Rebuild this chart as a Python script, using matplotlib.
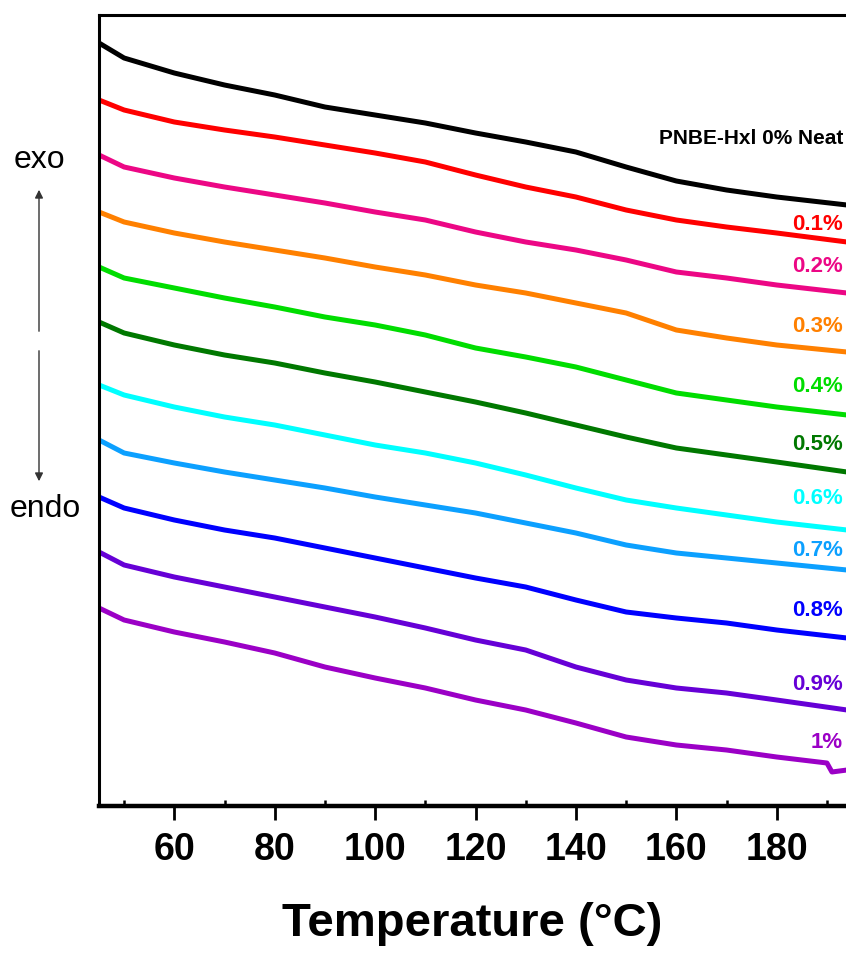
# DSC thermograms, PNBE-HxI loadings
import matplotlib.pyplot as plt
import numpy as np

# dados (fluxo de calor em u.a., curvas deslocadas)
temp = [45, 50, 60, 70, 80, 90, 100, 110, 120, 130, 140, 150, 160, 170, 180, 194]

neat = [763, 748, 733, 721, 711, 699, 691, 683, 673, 664, 654, 639, 625, 616, 609, 601]
p01 = [706, 696, 684, 676, 669, 661, 653, 644, 631, 619, 609, 596, 586, 579, 573, 564]
p02 = [651, 639, 628, 619, 611, 603, 594, 586, 574, 564, 556, 546, 534, 528, 521, 513]
p03 = [594, 584, 573, 564, 556, 548, 539, 531, 521, 513, 503, 493, 476, 468, 461, 454]
p04 = [539, 528, 518, 508, 499, 489, 481, 471, 458, 449, 439, 426, 413, 406, 399, 391]
p05 = [484, 473, 461, 451, 443, 433, 424, 414, 404, 393, 381, 369, 358, 351, 344, 334]
p06 = [421, 411, 399, 389, 381, 371, 361, 353, 343, 331, 318, 306, 298, 291, 284, 276]
p07 = [366, 353, 343, 334, 326, 318, 309, 301, 293, 283, 273, 261, 253, 248, 243, 236]
p08 = [309, 298, 286, 276, 268, 258, 248, 238, 228, 219, 206, 194, 188, 183, 176, 168]
p09 = [254, 241, 229, 219, 209, 199, 189, 178, 166, 156, 139, 126, 118, 113, 106, 96]

# 1% tem um pequeno degrau perto de 191 °C
temp_1 = [45, 50, 60, 70, 80, 90, 100, 110, 120, 130, 140, 150, 160, 170, 180, 190, 191, 194]
p10 = [198, 186, 174, 164, 153, 139, 128, 118, 106, 96, 83, 69, 61, 56, 49, 43, 34, 36]

series = [neat, p01, p02, p03, p04, p05, p06, p07, p08, p09]
labels = ['PNBE-Hxl 0% Neat', '0.1%', '0.2%', '0.3%', '0.4%', '0.5%',
          '0.6%', '0.7%', '0.8%', '0.9%', '1%']
label_y = [668, 582, 539, 480, 420, 362, 307, 255, 195, 122, 64]
cores = ['black', '#ff0000', '#ec0785', '#ff8000', '#00dd00', '#007800',
         '#00ffff', '#0ca0ff', '#0000ff', '#6600d6', '#9b00c6']

fonte = ['Liberation Sans', 'DejaVu Sans']
plt.rcParams['font.family'] = fonte

fig = plt.figure(figsize=(8.46, 9.56), dpi=100)
ax = fig.add_axes([99/846, 150/956, 1 - 99/846, 791/956])

for y, c in zip(series, cores):
    ax.plot(temp, y, color=c, lw=3.6, solid_joinstyle='round')
ax.plot(temp_1, p10, color=cores[-1], lw=3.6, solid_joinstyle='round')

ax.set_xlim(45, 193.8)
ax.set_ylim(0, 791)

# textos das curvas, alinhados à direita
for txt, yy, c in zip(labels, label_y, cores):
    fs = 15 if txt.startswith('PNBE') else 16
    ax.text(0.996, yy, txt, color=c, fontsize=fs, fontweight='bold',
            ha='right', va='center', transform=ax.get_yaxis_transform(),
            clip_on=False)

# eixos
ax.spines['right'].set_visible(False)
ax.spines['top'].set_linewidth(2.2)
ax.spines['left'].set_linewidth(2.2)
ax.spines['bottom'].set_linewidth(3.2)
ax.set_yticks([])
ax.set_xticks(np.arange(60, 181, 20))
ax.set_xticks(np.arange(50, 191, 20), minor=True)
ax.tick_params(axis='x', which='major', direction='out', length=10, width=2,
               pad=9, labelsize=27)
ax.tick_params(axis='x', which='minor', direction='in', length=4.5, width=1.8)
for t in ax.get_xticklabels():
    t.set_fontweight('bold')
ax.set_xlabel('Temperature (°C)', fontsize=34, fontweight='bold', labelpad=24)

# exo / endo
fig.text(39/846, 1 - 160/956, 'exo', fontsize=23, ha='center', va='center')
fig.text(45/846, 1 - 509/956, 'endo', fontsize=23, ha='center', va='center')
seta = dict(arrowstyle='-|>', color='#333333', lw=1.0, mutation_scale=12)
ax.annotate('', xy=(39, 956 - 187), xytext=(39, 956 - 334),
            xycoords='figure pixels', textcoords='figure pixels', arrowprops=seta)
ax.annotate('', xy=(39, 956 - 484), xytext=(39, 956 - 348),
            xycoords='figure pixels', textcoords='figure pixels', arrowprops=seta)

fig.savefig('out.png', dpi=100)
